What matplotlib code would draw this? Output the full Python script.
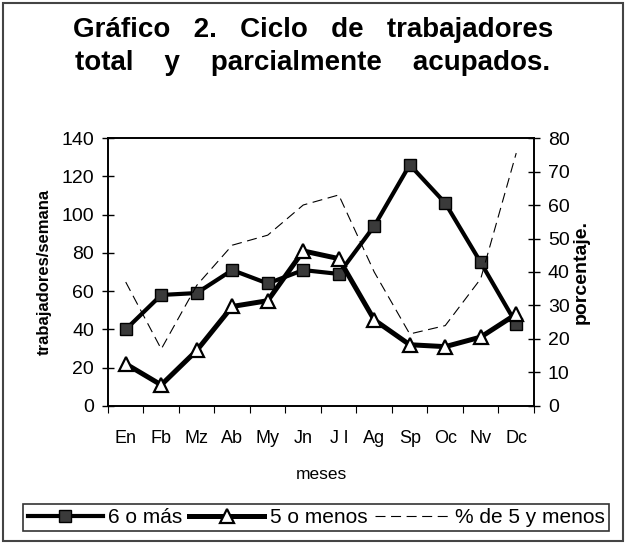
import matplotlib.pyplot as plt
from matplotlib.patches import Rectangle

plt.rcParams["font.family"] = ["Liberation Sans", "DejaVu Sans"]

# datos
meses = ["En", "Fb", "Mz", "Ab", "My", "Jn", "Jl", "Ag", "Sp", "Oc", "Nv", "Dc"]
seis_o_mas = [40, 58, 59, 71, 64, 71, 69, 94, 126, 106, 75, 43]
cinco_o_menos = [22, 11, 29, 52, 55, 81, 77, 45, 32, 31, 36, 48]
pct_cinco = [37, 17, 36, 48, 51, 60, 63, 40, 21.5, 24, 38, 75.5]
etiquetas_x = ["En", "Fb", "Mz", "Ab", "My", "Jn", "J l", "Ag", "Sp", "Oc", "Nv", "Dc"]

fig = plt.figure(figsize=(6.26, 5.44), dpi=100)
ax = fig.add_axes([0.1725, 0.2537, 0.6805, 0.4926])
ax2 = ax.twinx()

x = list(range(len(meses)))

l1, = ax.plot(x, seis_o_mas, color="black", lw=3, marker="s", ms=9,
              mfc="#3a3a3a", mec="black", mew=1, zorder=3)
l2, = ax.plot(x, cinco_o_menos, color="black", lw=3.6, marker="^", ms=10,
              mfc="white", mec="black", mew=1.6, zorder=3)
l3, = ax2.plot(x, pct_cinco, color="black", lw=0.8, dashes=(9, 5))

ax.set_xlim(-0.5, 11.5)
ax.set_ylim(0, 140)
ax2.set_ylim(0, 80)
ax.set_yticks(range(0, 141, 20))
ax2.set_yticks(range(0, 81, 10))
ax.set_xticks(x)
ax.set_xticklabels(etiquetas_x, fontsize=13)
ax.set_xticks([i - 0.5 for i in range(13)], minor=True)
ax.tick_params(axis="x", which="major", length=0, pad=17)
ax.tick_params(axis="x", which="minor", length=5, direction="out", width=0.8)
ax.tick_params(axis="y", length=8, direction="inout", width=1, labelsize=14, pad=6)
ax2.tick_params(axis="y", length=8, direction="inout", width=1, labelsize=14, pad=6)

for a in (ax, ax2):
    for s in a.spines.values():
        s.set_linewidth(1.2)

ax.set_xlabel("meses", fontsize=12.5, labelpad=15)
ax.set_ylabel("trabajadores/semana", fontsize=12, fontweight="bold",
              fontstretch="condensed", labelpad=7)
ax2.set_ylabel("porcentaje.", fontsize=14, fontweight="bold", labelpad=2)

fig.text(0.5, 0.945, "Gráfico   2.   Ciclo   de   trabajadores", ha="center", va="center",
         fontsize=20, fontweight="bold")
fig.text(0.5, 0.885, "total    y    parcialmente    acupados.", ha="center", va="center",
         fontsize=20, fontweight="bold")

leg = fig.legend([l1, l2, l3], ["6 o más", "5 o menos", "% de 5 y menos"],
                 loc="center", bbox_to_anchor=(0.505, 0.049), ncol=3, fontsize=15,
                 frameon=True, fancybox=False, edgecolor="black", handlelength=3.6,
                 handletextpad=0.25, columnspacing=0.35, borderpad=0.2,
                 borderaxespad=0)
leg.get_frame().set_linewidth(1.2)

fig.patches.append(Rectangle((0.005, 0.005), 0.99, 0.99, transform=fig.transFigure,
                             fill=False, edgecolor="#444444", lw=1.5))

fig.savefig("out.png", dpi=100)
